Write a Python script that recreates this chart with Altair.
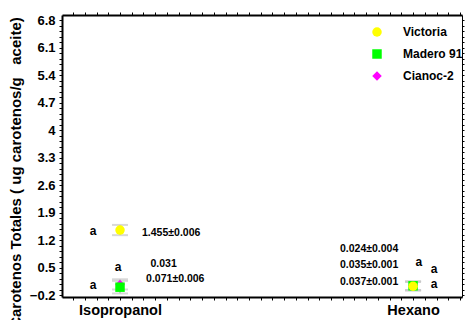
import altair as alt
import pandas as pd

solvents = ["Isopropanol", "Hexano"]
varieties = ["Victoria", "Madero 91", "Cianoc-2"]
colors = ["#FFFF00", "#00FF00", "#FF00FF"]
shapes = ["circle", "square", "diamond"]

# values (per solvent, per variety)
vals = {
    "Victoria": [1.455, 0.024],
    "Madero 91": [0.0, 0.035],
    "Cianoc-2": [0.071, 0.037],
}
errs = {
    "Victoria": [0.13, 0.11],
    "Madero 91": [0.16, 0.11],
    "Cianoc-2": [0.13, 0.11],
}

# annotation texts with their data positions (x in solvent-index units)
ann_text = ["a", "1.455±0.006", "a", "0.031", "0.071±0.006", "a",
            "0.024±0.004", "0.035±0.001", "0.037±0.001", "a", "a", "a"]
ann_x = [0.908, 1.075, 0.993, 1.104, 1.089, 0.908,
         1.85, 1.85, 1.85, 2.02, 2.072, 2.072]
ann_y = [1.43, 1.38, 0.51, 0.60, 0.21, 0.06,
         0.97, 0.56, 0.13, 0.63, 0.46, 0.08]
ann_align = ["center", "left", "center", "left", "left", "center",
             "center", "center", "center", "center", "center", "center"]
ann_size = [12, 10.5, 12, 10.5, 10.5, 12, 10.5, 10.5, 10.5, 12, 12, 12]

y_title = "Carotenos Totales ( ug carotenos/g\u00a0\u00a0 aceite)"

rows = []
for v in varieties:
    for i, s in enumerate(solvents):
        rows.append({"var": v, "solv": s, "x": i + 1, "y": vals[v][i],
                     "lo": vals[v][i] - errs[v][i], "hi": vals[v][i] + errs[v][i]})
df = pd.DataFrame(rows)
ann = pd.DataFrame({"t": ann_text, "x": ann_x, "y": ann_y, "al": ann_align, "fs": ann_size})

FONT = "Liberation Sans"
XD = [0.802, 2.167]
YD = [-0.25, 6.93]
xticks = [round(1 + 0.04 * k, 3) for k in range(-4, 30)]
xticks = [t for t in xticks if XD[0] <= t <= XD[1]]
yticks = [round(-0.2 + 0.14 * k, 3) for k in range(0, 51)]

xlab = "abs(datum.value-1)<0.001 ? 'Isopropanol' : (abs(datum.value-2)<0.001 ? 'Hexano' : '')"
ylab = "abs(((datum.value+0.2)/0.7) - round((datum.value+0.2)/0.7)) < 0.01 ? format(datum.value, '.1~f') : ''"

xs = alt.Scale(domain=XD, nice=False, zero=False)
ys = alt.Scale(domain=YD, nice=False, zero=False)

xaxis = alt.Axis(values=xticks, labelExpr=xlab, title=None, grid=False,
                 labelFont=FONT, labelFontSize=14.5, labelFontWeight="bold",
                 labelColor="black", labelPadding=3, labelOverlap=False,
                 domainColor="black", domainWidth=2, tickColor="black",
                 tickSize=3, tickWidth=1)
yaxis = alt.Axis(values=yticks, labelExpr=ylab, grid=False,
                 title=y_title,
                 titleFont=FONT, titleFontSize=15, titleFontWeight="bold",
                 titleColor="black", titleX=-39, titleY=157,
                 labelFont=FONT, labelFontSize=13, labelFontWeight="bold",
                 labelColor="black", labelPadding=4, labelOverlap=False,
                 domainColor="black", domainWidth=2, tickColor="black",
                 tickSize=3, tickWidth=1)

base = alt.Chart(df)

rule = base.mark_rule(color="#c8c8c8", strokeWidth=2).encode(
    x=alt.X("x:Q", scale=xs, axis=xaxis),
    y=alt.Y("lo:Q", scale=ys, axis=yaxis),
    y2="hi:Q",
)
cap_lo = base.mark_tick(color="#c8c8c8", thickness=2, size=16, orient="horizontal").encode(
    x=alt.X("x:Q", scale=xs, axis=None), y=alt.Y("lo:Q", scale=ys, axis=None))
cap_hi = base.mark_tick(color="#c8c8c8", thickness=2, size=16, orient="horizontal").encode(
    x=alt.X("x:Q", scale=xs, axis=None), y=alt.Y("hi:Q", scale=ys, axis=None))

pts = base.mark_point(filled=True, opacity=1, size=90).encode(
    x=alt.X("x:Q", scale=xs, axis=None),
    y=alt.Y("y:Q", scale=ys, axis=None),
    color=alt.Color("var:N", scale=alt.Scale(domain=varieties, range=colors),
                    legend=alt.Legend(title=None, orient="none", legendX=309, legendY=11,
                                      labelFont=FONT, labelFontSize=12, labelFontWeight="bold",
                                      labelColor="black", symbolSize=90, rowPadding=10,
                                      labelOffset=20, symbolStrokeWidth=0)),
    shape=alt.Shape("var:N", scale=alt.Scale(domain=varieties, range=shapes)),
    order=alt.Order("var:N"),
)

txt_c = alt.Chart(ann).transform_filter("datum.al == 'center'").mark_text(
    font=FONT, fontWeight="bold", color="black", baseline="middle", align="center").encode(
    x=alt.X("x:Q", scale=xs, axis=None), y=alt.Y("y:Q", scale=ys, axis=None), text="t:N",
    size=alt.Size("fs:Q", scale=None, legend=None))
txt_l = alt.Chart(ann).transform_filter("datum.al == 'left'").mark_text(
    font=FONT, fontWeight="bold", color="black", baseline="middle", align="left").encode(
    x=alt.X("x:Q", scale=xs, axis=None), y=alt.Y("y:Q", scale=ys, axis=None), text="t:N",
    size=alt.Size("fs:Q", scale=None, legend=None))

# top and right frame ticks
frame = alt.Chart(df).mark_point(opacity=0).encode(
    x=alt.X("x:Q", scale=xs, axis=alt.Axis(orient="top", values=xticks, labels=False, title=None,
                                           grid=False, domainColor="black", domainWidth=2,
                                           tickColor="black", tickSize=3)),
    y=alt.Y("y:Q", scale=ys, axis=alt.Axis(orient="right", values=yticks, labels=False, title=None,
                                           grid=False, domainColor="black", domainWidth=1,
                                           tickColor="black", tickSize=2)),
)

chart = alt.layer(rule, cap_lo, cap_hi, pts, txt_c, txt_l, frame).resolve_axis(
    x="independent", y="independent"
).properties(
    width=400, height=282,
    padding={"left": 62, "top": 15, "right": 8, "bottom": 23},
    autosize=alt.AutoSizeParams(type="none"),
).configure_view(stroke=None).configure(background="white")

chart.save("out.html", embed_options={"renderer": "svg", "actions": False})
